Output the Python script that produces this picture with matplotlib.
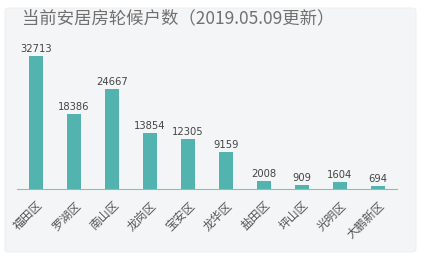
import matplotlib.pyplot as plt
from matplotlib.patches import FancyBboxPatch

plt.rcParams['font.family'] = ['Noto Sans CJK SC', 'DejaVu Sans']

districts = ["福田区", "罗湖区", "南山区", "龙岗区", "宝安区", "龙华区", "盐田区", "坪山区", "光明区", "大鹏新区"]
households = [32713, 18386, 24667, 13854, 12305, 9159, 2008, 909, 1604, 694]

fig = plt.figure(figsize=(4.24, 2.62), dpi=100)
fig.patch.set_facecolor("white")

# card background
card = FancyBboxPatch((5 / 424, 10 / 262), 411 / 424, 244 / 262,
                      boxstyle="round,pad=0,rounding_size=0.01",
                      transform=fig.transFigure, facecolor="#f4f5f7",
                      edgecolor="#ececee", linewidth=0.6, zorder=-10)
fig.patches.append(card)

ax = fig.add_axes([17 / 424, 73 / 262, 380 / 424, 142.3 / 262])
ax.set_facecolor("none")
ax.set_zorder(5)

x = range(len(districts))
ax.bar(x, households, width=0.37, color="#52b3af")
for i, v in zip(x, households):
    ax.text(i, v + 500, str(v), ha="center", va="bottom", fontsize=7.2,
            color="#444444", family=["DejaVu Sans"])

ax.set_xlim(-0.5, 9.5)
ax.set_ylim(0, 35000)
ax.set_xticks(list(x))
ax.set_xticklabels(districts, rotation=45, ha="right", rotation_mode="anchor",
                   fontsize=8.5, color="#555555")
ax.tick_params(axis="x", length=0, pad=7)
ax.set_yticks([])
for s in ["top", "right", "left"]:
    ax.spines[s].set_visible(False)
ax.spines["bottom"].set_color("#7fc3c0")
ax.spines["bottom"].set_linewidth(0.8)

fig.text(22 / 424, 1 - 18 / 262, "当前安居房轮候户数（2019.05.09更新）", fontsize=12.5,
         color="#707070", ha="left", va="center", zorder=6)

fig.savefig("out.png", dpi=100)
